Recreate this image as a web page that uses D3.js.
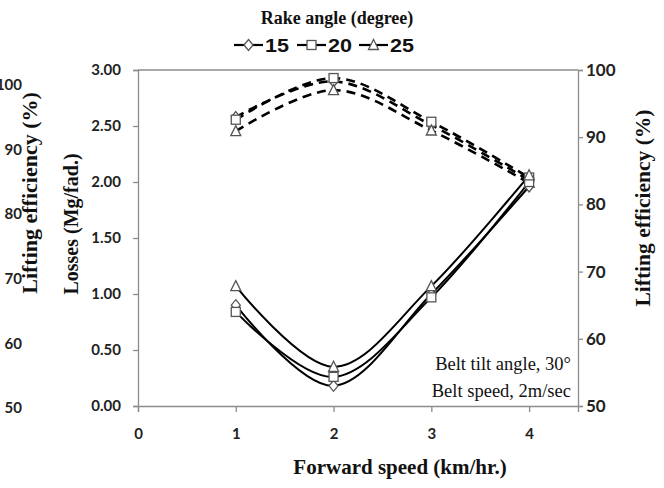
<!DOCTYPE html>
<html><head><meta charset="utf-8">
<script src="https://cdn.jsdelivr.net/npm/d3@7"></script>
<style>
body{margin:0;background:#fff;}
svg{display:block;}
</style></head>
<body>
<svg id="chart" width="664" height="488"></svg>
<script>
const speeds = [1, 2, 3, 4];
const rakeAngles = ["15", "20", "25"];
const markerShapes = ["diamond", "square", "triangle"];
const losses15 = [0.90, 0.18, 1.00, 1.96];
const losses20 = [0.84, 0.26, 0.97, 2.00];
const losses25 = [1.07, 0.35, 1.07, 2.06];
const eff15 = [93.0, 98.3, 91.8, 83.6];
const eff20 = [92.6, 98.8, 92.3, 84.0];
const eff25 = [90.9, 97.0, 91.0, 83.2];
const xTicks = [0, 1, 2, 3, 4];
const lossTicks = [0, 0.5, 1, 1.5, 2, 2.5, 3];
const effTicks = [50, 60, 70, 80, 90, 100];
const notes = ["Belt tilt angle, 30\u00B0", "Belt speed, 2m/sec"];

const svg = d3.select("#chart");
const L = 138, R = 578, T = 70, B = 406;
const x = d3.scaleLinear().domain([0, 4.5]).range([L, R]);
const yL = d3.scaleLinear().domain([0, 3]).range([B, T]);
const yR = d3.scaleLinear().domain([50, 100]).range([B, T]);
const yFrag = d3.scaleLinear().domain([50, 100]).range([408, 85]);

const grey = "#8c8c8c";
const tickFont = "Lato, 'Open Sans', sans-serif";
const serif = "'Liberation Serif', 'Times New Roman', serif";

// leftover fragment of neighbouring axis at far left
const frag = svg.append("g");
effTicks.forEach(t => {
  frag.append("text").attr("x", 22).attr("y", yFrag(t)).attr("dy", "0.35em")
    .attr("text-anchor", "end").attr("font-family", tickFont).attr("font-weight", 700)
    .attr("font-size", 15).attr("fill", "#222").text(t);
});
frag.append("text").attr("transform", "translate(37,193) rotate(-90)")
  .attr("text-anchor", "middle").attr("font-family", serif).attr("font-weight", "bold")
  .attr("font-size", 22).attr("fill", "#111").text("Lifting efficiency (%)");

// plot area border (top)
svg.append("line").attr("x1", L).attr("x2", R).attr("y1", T).attr("y2", T).attr("stroke", grey).attr("stroke-width", 1.3);

// axes
const axLeft = svg.append("g").attr("transform", `translate(${L},0)`)
  .call(d3.axisLeft(yL).tickValues(lossTicks).tickFormat(d3.format(".2f")).tickSize(5).tickPadding(12));
const axRight = svg.append("g").attr("transform", `translate(${R},0)`)
  .call(d3.axisRight(yR).tickValues(effTicks).tickSize(5).tickPadding(3));
const axBottom = svg.append("g").attr("transform", `translate(0,${B})`)
  .call(d3.axisBottom(x).tickValues(xTicks).tickFormat(d3.format("d")).tickSize(6).tickPadding(16));
[axLeft, axRight, axBottom].forEach(a => {
  a.selectAll("path.domain").attr("stroke", grey).attr("stroke-width", 1.3);
  a.selectAll(".tick line").attr("stroke", grey).attr("stroke-width", 1.3);
  a.selectAll("text").attr("font-family", tickFont).attr("font-weight", 700).attr("fill", "#222");
});
axLeft.selectAll("text").attr("font-size", 15);
axBottom.selectAll("text").attr("font-size", 15);
axRight.selectAll("text").attr("font-size", 17);

// axis titles
svg.append("text").attr("transform", "translate(78,224) rotate(-90)")
  .attr("text-anchor", "middle").attr("font-family", serif).attr("font-weight", "bold")
  .attr("font-size", 20).attr("fill", "#111").text("Losses (Mg/fad.)");
svg.append("text").attr("transform", "translate(650,208) rotate(-90)")
  .attr("text-anchor", "middle").attr("font-family", serif).attr("font-weight", "bold")
  .attr("font-size", 21.5).attr("fill", "#111").text("Lifting efficiency (%)");
svg.append("text").attr("x", 400).attr("y", 474)
  .attr("text-anchor", "middle").attr("font-family", serif).attr("font-weight", "bold")
  .attr("font-size", 21).attr("fill", "#111").text("Forward speed (km/hr.)");

// marker drawing
function marker(g, shape, cx, cy) {
  let el;
  if (shape === "square") {
    el = g.append("rect").attr("x", cx - 4.5).attr("y", cy - 4.5).attr("width", 9).attr("height", 9);
  } else if (shape === "diamond") {
    el = g.append("path").attr("d", `M${cx},${cy-5.5}L${cx+4.5},${cy}L${cx},${cy+5.5}L${cx-4.5},${cy}Z`);
  } else {
    el = g.append("path").attr("d", `M${cx},${cy-5.5}L${cx+5},${cy+4.5}L${cx-5},${cy+4.5}Z`);
  }
  el.attr("fill", "#fff").attr("stroke", "#555").attr("stroke-width", 1.3);
}

const lossSeries = [losses15, losses20, losses25];
const effSeries = [eff15, eff20, eff25];
const curve = d3.curveCatmullRom.alpha(0);
const lineL = d3.line().x((d, i) => x(speeds[i])).y(d => yL(d)).curve(curve);
const lineR = d3.line().x((d, i) => x(speeds[i])).y(d => yR(d)).curve(curve);

const plot = svg.append("g");
effSeries.forEach(s => {
  plot.append("path").attr("d", lineR(s)).attr("fill", "none").attr("stroke", "#000")
    .attr("stroke-width", 2.6).attr("stroke-dasharray", "9,6");
});
lossSeries.forEach(s => {
  plot.append("path").attr("d", lineL(s)).attr("fill", "none").attr("stroke", "#000")
    .attr("stroke-width", 2);
});
const mk = svg.append("g");
effSeries.forEach((s, k) => s.forEach((v, i) => marker(mk, markerShapes[k], x(speeds[i]), yR(v))));
lossSeries.forEach((s, k) => s.forEach((v, i) => marker(mk, markerShapes[k], x(speeds[i]), yL(v))));

// notes
notes.forEach((t, i) => {
  svg.append("text").attr("x", 571).attr("y", 370 + i * 27).attr("text-anchor", "end")
    .attr("font-family", serif).attr("font-size", 18.5).attr("fill", "#111").text(t);
});

// legend
svg.append("text").attr("x", 337).attr("y", 24).attr("text-anchor", "middle")
  .attr("font-family", serif).attr("font-weight", "bold").attr("font-size", 18)
  .attr("fill", "#111").text("Rake angle (degree)");
const legX = [234, 297, 359];
rakeAngles.forEach((r, k) => {
  const g = svg.append("g");
  g.append("line").attr("x1", legX[k]).attr("x2", legX[k] + 29).attr("y1", 45).attr("y2", 45)
    .attr("stroke", "#000").attr("stroke-width", 2.2);
  marker(g, markerShapes[k], legX[k] + 14.5, 45);
  g.append("text").attr("x", legX[k] + 31).attr("y", 52)
    .attr("font-family", "'Liberation Sans', Arial, sans-serif")
    .attr("font-weight", 700).attr("font-size", 19).attr("textLength", 24)
    .attr("lengthAdjust", "spacingAndGlyphs").attr("fill", "#111").text(r);
});
</script>
</body></html>
